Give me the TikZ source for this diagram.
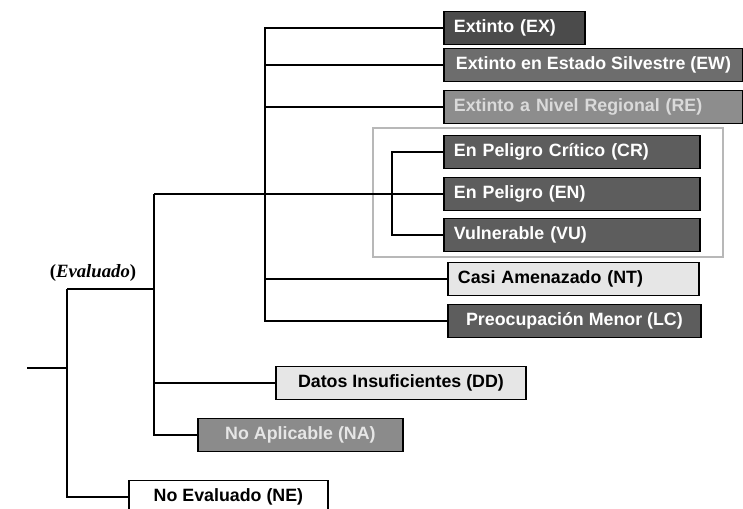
\documentclass[tikz,border=0pt]{standalone}
\usepackage{fontspec}
\setmainfont{Liberation Serif}
\setsansfont{Liberation Sans}
\usetikzlibrary{fit}

\definecolor{exgray}{HTML}{4B4B4B}
\definecolor{ewgray}{HTML}{6D6D6D}
\definecolor{regray}{HTML}{8D8D8D}
\definecolor{retext}{HTML}{DADADA}
\definecolor{thgray}{HTML}{5D5D5D}
\definecolor{nagray}{HTML}{8B8B8B}
\definecolor{paper}{HTML}{E6E6E6}
\definecolor{framegray}{HTML}{B8B8B8}

\begin{document}
\begin{tikzpicture}[
  x=0.03cm, y=-0.03cm,
  cat/.style={draw, line width=1.6pt, anchor=west, minimum height=0.99cm,
    inner xsep=0.3cm, inner ysep=0pt, font=\sffamily\bfseries\fontsize{15.2}{18}\selectfont},
  flush/.style={text width=#1, align=left},
  darkbox/.style={cat, fill=#1, text=white},
  palebox/.style={cat, fill=paper},
  branch/.style={line width=2.4pt}
]
  \useasboundingbox (0,0) rectangle (743,509);

  % threatened group frame
  \node[draw=framegray, line width=1.8pt, inner sep=0pt, fit={(373,128) (723,257)}] (threat) {};

  % categories
  \node[darkbox=exgray, flush=3.63cm] (EX) at (443,28) {Extinto (EX)};
  \node[darkbox=ewgray, minimum width=8.97cm, inner xsep=0.15cm] (EW) at (443,65) {Extinto en Estado Silvestre (EW)};
  \node[darkbox=regray, flush=8.37cm, text=retext] (RE) at (443,107) {Extinto a Nivel Regional (RE)};
  \node[darkbox=thgray, flush=7.08cm] (CR) at (443,152) {En Peligro Cr\'itico (CR)};
  \node[darkbox=thgray, flush=7.08cm] (EN) at (443,194) {En Peligro (EN)};
  \node[darkbox=thgray, flush=7.08cm] (VU) at (443,235) {Vulnerable (VU)};
  \node[palebox, flush=6.93cm] (NT) at (447,279) {Casi Amenazado (NT)};
  \node[darkbox=thgray, minimum width=7.59cm] (LC) at (447,321) {Preocupaci\'on Menor (LC)};
  \node[palebox, minimum width=7.5cm] (DD) at (275,383) {Datos Insuficientes (DD)};
  \node[darkbox=nagray, minimum width=6.15cm, text=paper] (NA) at (197,435) {No Aplicable (NA)};
  \node[cat, fill=white, minimum width=5.97cm] (NE) at (128,497) {No Evaluado (NE)};

  \node[font=\bfseries\fontsize{16}{18}\selectfont] (evallabel) at (93,273) {(\textit{Evaluado})};

  % branches
  \coordinate (start) at (27,368);
  \coordinate (eval) at (67,289);
  \coordinate (adequate) at (154,194);
  \coordinate (thr) at (392,194);
  \coordinate (extant) at (265,0);

  \draw[branch] (start) -- (eval |- start);
  \draw[branch] (eval) |- (NE.west);
  \draw[branch] (eval) -- (adequate |- eval);
  \draw[branch] (adequate) |- (NA.west);
  \draw[branch] (adequate |- DD.west) -- (DD.west);
  \draw[branch] (adequate) -- (thr);
  \draw[branch] (EX.west) -| (extant |- LC.west) -- (LC.west);
  \foreach \n in {EW,RE,NT}
    \draw[branch] (extant |- \n.west) -- (\n.west);
  \draw[branch] (CR.west) -| (thr) |- (VU.west);
  \draw[branch] (thr) -- (EN.west);
\end{tikzpicture}
\end{document}
